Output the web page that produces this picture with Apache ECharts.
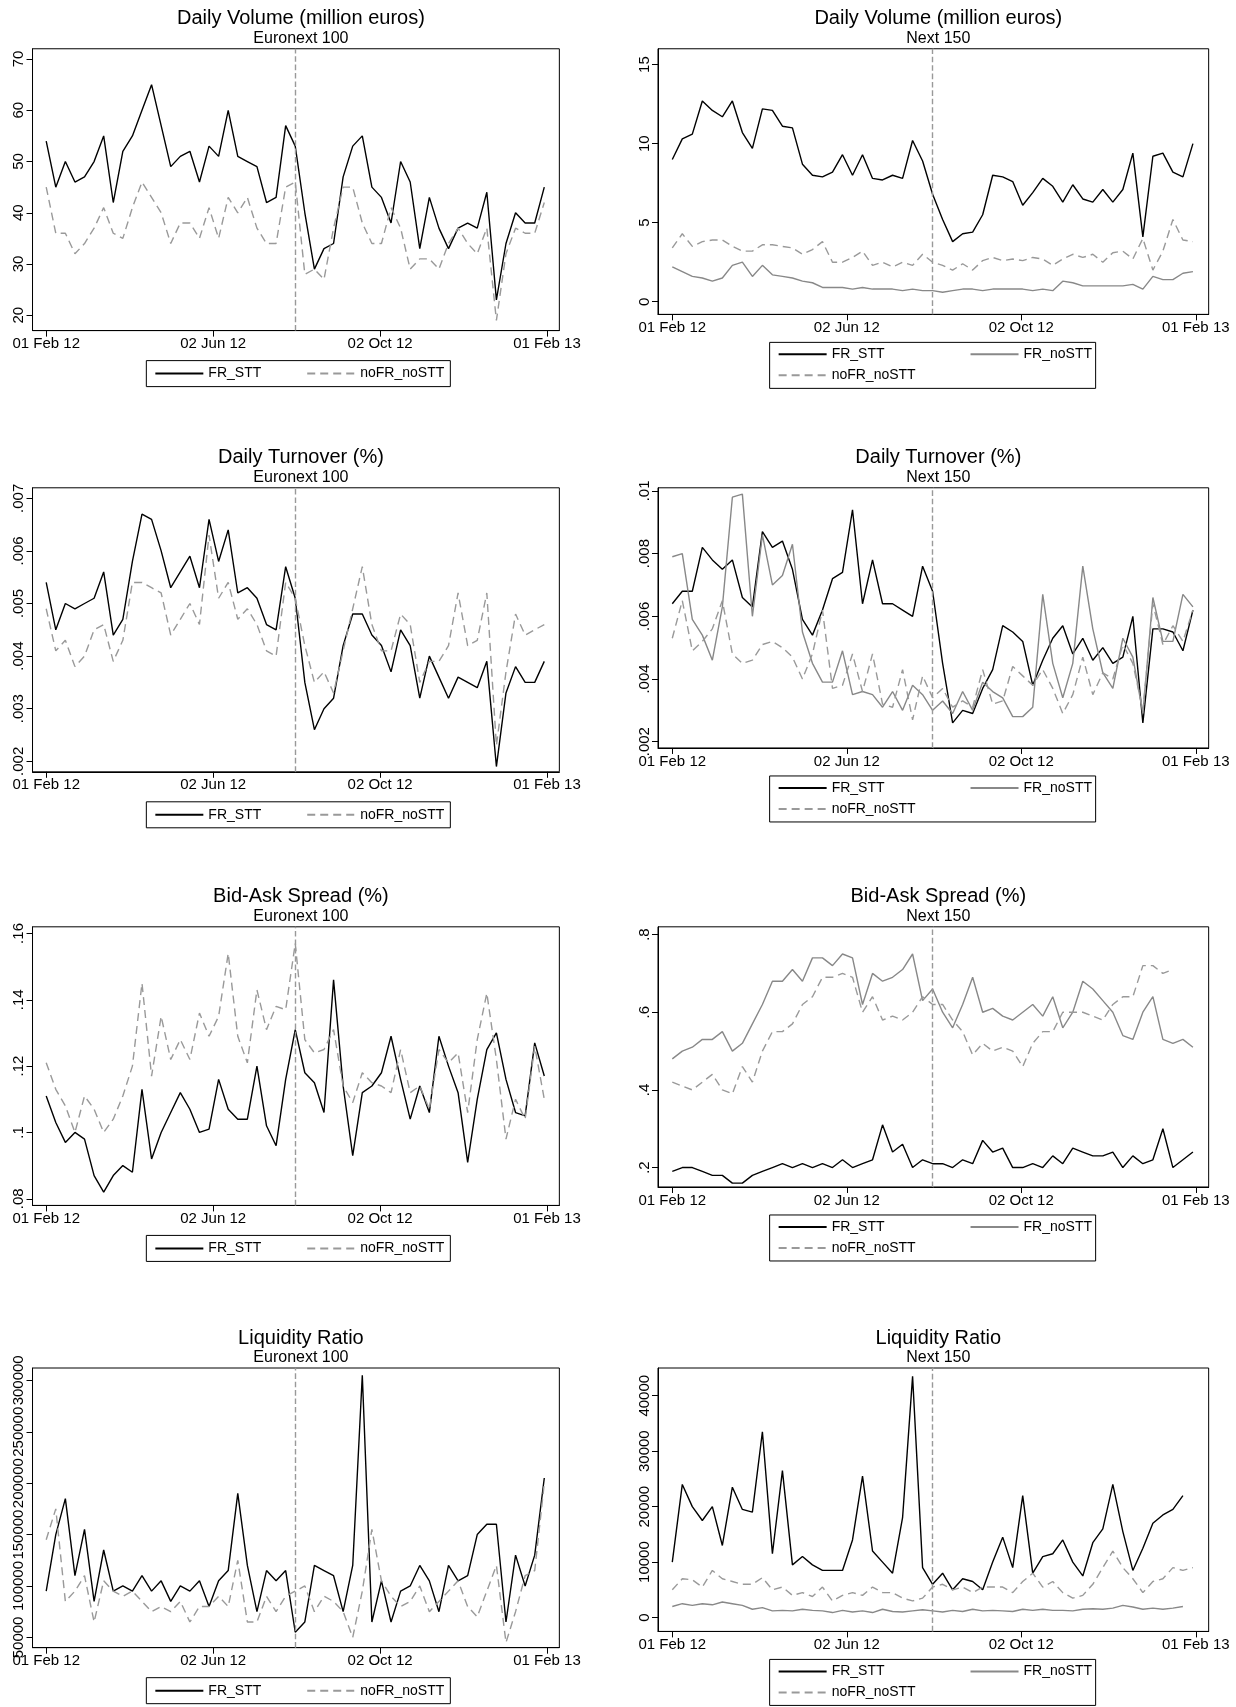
<!DOCTYPE html>
<html>
<head>
<meta charset="UTF-8">
<title>Daily market indicators</title>
<script src="https://cdn.jsdelivr.net/npm/echarts@6/dist/echarts.min.js"></script>
<style>html,body{margin:0;background:#fff}#main{width:1236px;height:1707px}</style>
</head>
<body>
<div id="main"></div>
<script>
// weekly observations, x = days since 01 Feb 12
var xTickDays = [0, 122, 244, 366];
var xTickLabels = ['01 Feb 12', '02 Jun 12', '02 Oct 12', '01 Feb 13'];
var sttDay = 182;

var volE100_FR = [54,45,50,46,47,50,55,42,52,55,60,65,57,49,51,52,46,53,51,60,51,50,49,42,43,57,53,40,29,33,34,47,53,55,45,43,38,50,46,33,43,37,33,37,38,37,44,23,34,40,38,38,45];
var volE100_no = [45,36,36,32,34,37,41,36,35,41,46,43,40,34,38,38,35,41,35,43,40,43,37,34,34,45,46,28,29,27,37,45,45,38,34,34,41,37,29,31,31,29,34,37,34,32,37,19,32,37,36,36,42];

var volN150_FR = [9,10.3,10.6,12.7,12.1,11.7,12.7,10.7,9.7,12.2,12.1,11.1,11,8.7,8,7.9,8.2,9.3,8,9.3,7.8,7.7,8,7.8,10.2,8.9,6.8,5.2,3.8,4.3,4.4,5.5,8,7.9,7.6,6.1,6.9,7.8,7.3,6.3,7.4,6.5,6.3,7.1,6.3,7.1,9.4,4.1,9.2,9.4,8.2,7.9,10];
var volN150_FRno = [2.2,1.9,1.6,1.5,1.3,1.5,2.3,2.5,1.6,2.3,1.7,1.6,1.5,1.3,1.2,0.9,0.9,0.9,0.8,0.9,0.8,0.8,0.8,0.7,0.8,0.7,0.7,0.6,0.7,0.8,0.8,0.7,0.8,0.8,0.8,0.8,0.7,0.8,0.7,1.3,1.2,1,1,1,1,1,1.1,0.8,1.6,1.4,1.4,1.8,1.9];
var volN150_no = [3.4,4.3,3.5,3.8,3.9,3.9,3.5,3.2,3.2,3.6,3.6,3.5,3.4,3,3.3,3.8,2.5,2.5,2.8,3.2,2.3,2.5,2.2,2.5,2.3,3,2.5,2.3,2,2.4,2,2.6,2.8,2.6,2.7,2.6,2.8,2.7,2.3,2.7,3,2.8,3,2.5,3.1,3.2,2.7,4,2,3.2,5.2,3.9,3.8];

var turnE100_FR = [.0054,.0045,.005,.0049,.005,.0051,.0056,.0044,.0047,.0058,.0067,.0066,.006,.0053,.0056,.0059,.0053,.0066,.0058,.0064,.0052,.0053,.0051,.0046,.0045,.0057,.0051,.0035,.0026,.003,.0032,.0042,.0048,.0048,.0044,.0042,.0037,.0045,.0042,.0032,.004,.0036,.0032,.0036,.0035,.0034,.0039,.0019,.0033,.0038,.0035,.0035,.0039];
var turnE100_no = [.0049,.0041,.0043,.0038,.004,.0045,.0046,.0039,.0043,.0054,.0054,.0053,.0052,.0044,.0047,.005,.0046,.0063,.0051,.0054,.0047,.0049,.0046,.0041,.004,.0054,.0051,.0042,.0035,.0037,.0033,.0041,.0049,.0057,.0046,.0041,.0041,.0048,.0046,.0035,.0039,.0039,.0042,.0052,.0042,.0043,.0052,.0023,.0037,.0048,.0044,.0045,.0046];

var turnN150_FR = [.0064,.0068,.0068,.0082,.0078,.0075,.0078,.0066,.0063,.0087,.0082,.0084,.0075,.0059,.0054,.0062,.0072,.0074,.0094,.0064,.0078,.0064,.0064,.0062,.006,.0076,.0068,.0045,.0026,.003,.0029,.0037,.0043,.0057,.0055,.0052,.0038,.0046,.0053,.0057,.0048,.0053,.0046,.005,.0045,.0047,.006,.0026,.0056,.0056,.0055,.0049,.0062];
var turnN150_FRno = [.0079,.008,.0059,.0054,.0046,.0063,.0098,.0099,.006,.0086,.007,.0073,.0083,.0055,.0045,.0039,.0039,.0049,.0035,.0036,.0035,.0031,.0036,.003,.0038,.0035,.003,.0033,.0029,.0036,.003,.0039,.0036,.0034,.0028,.0028,.0031,.0067,.0045,.0034,.0045,.0076,.0056,.0042,.0037,.0053,.0047,.0029,.0066,.0052,.0052,.0067,.0063];
var turnN150_no = [.0053,.0065,.0049,.0052,.0056,.0065,.0048,.0045,.0046,.0051,.0052,.005,.0047,.004,.0048,.0062,.0037,.0038,.0048,.0036,.0048,.0032,.0031,.0043,.0027,.0041,.0034,.0037,.0031,.0033,.0031,.0043,.0032,.0033,.0044,.0041,.0038,.0043,.0037,.0029,.0035,.0047,.0035,.0042,.004,.0051,.0045,.003,.0064,.0051,.0057,.0052,.0062];

var sprE100_FR = [.111,.103,.097,.1,.098,.087,.082,.087,.09,.088,.113,.092,.1,.106,.112,.107,.1,.101,.116,.107,.104,.104,.12,.102,.096,.116,.131,.118,.115,.106,.146,.114,.093,.112,.114,.118,.129,.116,.104,.114,.106,.129,.12,.112,.091,.11,.125,.13,.116,.106,.105,.127,.117];
var sprE100_no = [.121,.113,.108,.1,.111,.107,.1,.104,.111,.12,.145,.117,.135,.122,.128,.122,.136,.129,.135,.154,.129,.121,.143,.131,.138,.137,.157,.128,.124,.125,.131,.114,.109,.118,.115,.114,.112,.125,.112,.114,.107,.125,.121,.124,.106,.128,.142,.122,.098,.11,.104,.126,.11];

var sprN150_FR = [.19,.2,.2,.19,.18,.18,.16,.16,.18,.19,.2,.21,.2,.21,.2,.21,.2,.22,.2,.21,.22,.31,.24,.26,.2,.22,.21,.21,.2,.22,.21,.27,.24,.25,.2,.2,.21,.2,.23,.21,.25,.24,.23,.23,.24,.2,.23,.21,.22,.3,.2,.22,.24,.18,.21];
var sprN150_FRno = [.48,.5,.51,.53,.53,.55,.5,.52,.57,.62,.68,.68,.71,.68,.74,.74,.72,.75,.74,.62,.7,.68,.69,.71,.75,.63,.66,.6,.56,.62,.69,.6,.61,.59,.58,.6,.62,.59,.64,.56,.6,.68,.66,.63,.6,.54,.53,.6,.64,.53,.52,.53,.51];
var sprN150_no = [.42,.41,.4,.42,.44,.4,.39,.46,.42,.5,.55,.55,.57,.62,.64,.69,.69,.7,.69,.6,.64,.58,.59,.58,.6,.64,.62,.62,.58,.55,.49,.52,.5,.51,.5,.46,.52,.55,.55,.6,.6,.6,.59,.58,.62,.64,.64,.72,.72,.7,.71];

var liqE100_FR = [95000,150000,185000,110000,155000,85000,135000,95000,100000,95000,110000,95000,105000,85000,100000,95000,105000,80000,105000,115000,190000,120000,75000,115000,105000,115000,55000,65000,120000,115000,110000,75000,120000,305000,65000,105000,65000,95000,100000,120000,105000,75000,120000,105000,110000,150000,160000,160000,65000,130000,100000,130000,205000];
var liqE100_no = [145000,175000,85000,95000,110000,65000,105000,95000,90000,95000,85000,75000,80000,75000,85000,65000,80000,80000,90000,80000,125000,65000,65000,90000,75000,90000,95000,100000,75000,90000,85000,75000,50000,95000,155000,105000,90000,80000,85000,100000,75000,85000,95000,105000,80000,70000,95000,120000,45000,75000,110000,115000,200000];

var liqN150_FR = [10000,24000,20000,17500,20000,13000,23500,19500,19000,33500,11500,26500,9500,11000,9500,8500,8500,8500,14000,25500,12000,10000,8000,18000,43500,9000,6000,8000,5000,7000,6500,5000,10000,14500,9000,22000,8000,11000,11500,14000,10000,7500,13500,16000,24000,15500,8500,12500,17000,18500,19500,22000];
var liqN150_FRno = [2000,2500,2200,2500,2300,2800,2500,2200,1500,1800,1200,1300,1200,1500,1300,1200,900,1300,1000,1200,900,1500,1100,1000,1200,1400,1200,1000,1300,1100,1500,1200,1300,1200,1100,1500,1300,1500,1300,1300,1200,1500,1600,1500,1700,2200,1900,1500,1700,1500,1700,2000];
var liqN150_no = [5000,7000,6800,5500,8500,7000,6500,6000,6000,7200,5000,5500,4000,4500,3800,5500,3000,4000,4500,4000,5500,4500,4500,3500,3000,3500,5500,6000,5000,5500,4500,5500,5500,5500,4500,6500,8000,5500,6500,4500,3500,4000,6000,9000,12000,9000,7000,4500,6500,7000,9000,8500,9000];

var panels = [
  {t:'Daily Volume (million euros)', s:'Euronext 100', col:0, row:0, ymin:17, ymax:72, yt:[20,30,40,50,60,70], fr:volE100_FR, no:volE100_no},
  {t:'Daily Volume (million euros)', s:'Next 150', col:1, row:0, ymin:-0.8, ymax:16, yt:[0,5,10,15], fr:volN150_FR, frno:volN150_FRno, no:volN150_no},
  {t:'Daily Turnover (%)', s:'Euronext 100', col:0, row:1, ymin:.0018, ymax:.0072, yt:[.002,.003,.004,.005,.006,.007], fr:turnE100_FR, no:turnE100_no},
  {t:'Daily Turnover (%)', s:'Next 150', col:1, row:1, ymin:.0018, ymax:.0101, yt:[.002,.004,.006,.008,.01], fr:turnN150_FR, frno:turnN150_FRno, no:turnN150_no},
  {t:'Bid-Ask Spread (%)', s:'Euronext 100', col:0, row:2, ymin:.078, ymax:.162, yt:[.08,.1,.12,.14,.16], fr:sprE100_FR, no:sprE100_no},
  {t:'Bid-Ask Spread (%)', s:'Next 150', col:1, row:2, ymin:.15, ymax:.82, yt:[.2,.4,.6,.8], fr:sprN150_FR, frno:sprN150_FRno, no:sprN150_no},
  {t:'Liquidity Ratio', s:'Euronext 100', col:0, row:3, ymin:40000, ymax:312000, yt:[50000,100000,150000,200000,250000,300000], fr:liqE100_FR, no:liqE100_no},
  {t:'Liquidity Ratio', s:'Next 150', col:1, row:3, ymin:-2500, ymax:45000, yt:[0,10000,20000,30000,40000], fr:liqN150_FR, frno:liqN150_FRno, no:liqN150_no}
];

// layout measured on a reduced copy, scaled by S
var S = 1.084;
var rowTop = [45, 450, 855, 1262];
var rowH = [[260, 245], [262, 240], [257, 240], [258, 243]];
var colLeft = [30, 607];
var colW = [486, 508];
var font = 'Liberation Sans, Arial, sans-serif';

function pts(arr) {
  return arr.slice(0, 53).map(function (v, i) { return [i * 7, v]; });
}
function fmtY(v) {
  return String(Number(v.toPrecision(6))).replace(/^0\./, '.');
}

var titles = [], grids = [], xAxes = [], yAxes = [], series = [], legends = [], boxes = [];

panels.forEach(function (p, k) {
  var left = colLeft[p.col] * S, w = colW[p.col] * S, top = rowTop[p.row] * S, h = rowH[p.row][p.col] * S;
  var cx = left + w / 2;
  titles.push({text: p.t, subtext: p.s, left: cx, top: top - 45, textAlign: 'center', itemGap: 2,
    textStyle: {fontFamily: font, fontSize: 20, fontWeight: 'normal', color: '#000'},
    subtextStyle: {fontFamily: font, fontSize: 16, color: '#000'}});
  grids.push({left: left, top: top, width: w, height: h, show: true, borderColor: '#000', borderWidth: 1, backgroundColor: '#fff'});
  xAxes.push({type: 'value', gridIndex: k, min: -10, max: 375,
    axisLine: {show: true, onZero: false, lineStyle: {color: '#000'}},
    axisTick: {show: true, customValues: xTickDays, length: 6, lineStyle: {color: '#000'}},
    axisLabel: {customValues: xTickDays, fontFamily: font, fontSize: 15, color: '#000', margin: 6,
      formatter: function (v) { return xTickLabels[xTickDays.indexOf(v)]; }},
    splitLine: {show: false}});
  yAxes.push({type: 'value', gridIndex: k, min: p.ymin, max: p.ymax,
    axisLine: {show: true, onZero: false, lineStyle: {color: '#000'}},
    axisTick: {show: true, customValues: p.yt, length: 6, lineStyle: {color: '#000'}},
    axisLabel: {customValues: p.yt, rotate: 90, fontFamily: font, fontSize: 15, color: '#000', margin: 6, formatter: fmtY},
    splitLine: {show: false}});
  series.push({name: 'FR_STT', type: 'line', xAxisIndex: k, yAxisIndex: k, data: pts(p.fr), symbol: 'none',
    lineStyle: {color: '#000', width: 1.4}, itemStyle: {color: '#000'},
    markLine: {silent: true, symbol: 'none', label: {show: false},
      lineStyle: {color: '#999', type: 'dashed', width: 1.4}, data: [{xAxis: sttDay}]}});
  if (p.frno) {
    series.push({name: 'FR_noSTT', type: 'line', xAxisIndex: k, yAxisIndex: k, data: pts(p.frno), symbol: 'none',
      lineStyle: {color: '#888', width: 1.4}, itemStyle: {color: '#888'}});
  }
  series.push({name: 'noFR_noSTT', type: 'line', xAxisIndex: k, yAxisIndex: k, data: pts(p.no), symbol: 'none',
    lineStyle: {color: '#999', width: 1.4, type: [8, 5]}, itemStyle: {color: '#999'}});

  var common = {itemWidth: 48, itemHeight: 12, selectedMode: false, itemStyle: {opacity: 0},
    textStyle: {fontFamily: font, fontSize: 14, color: '#000'}};
  var ly = top + h + (p.col === 0 ? 30 : 28);
  if (p.col === 0) {
    var bx = 135 * S;
    boxes.push({type: 'rect', shape: {x: bx, y: ly, width: 304, height: 26}, style: {fill: 'none', stroke: '#000', lineWidth: 1}});
    legends.push(Object.assign({data: ['FR_STT', 'noFR_noSTT'], left: bx + 8, top: ly + 6, itemGap: 45, padding: 0}, common));
  } else {
    var bx2 = 710 * S;
    boxes.push({type: 'rect', shape: {x: bx2, y: ly, width: 326, height: 46}, style: {fill: 'none', stroke: '#000', lineWidth: 1}});
    legends.push(Object.assign({data: ['FR_STT', 'FR_noSTT'], left: bx2 + 8, top: ly + 5, itemGap: 85, padding: 0}, common));
    legends.push(Object.assign({data: ['noFR_noSTT'], left: bx2 + 8, top: ly + 26, padding: 0}, common));
  }
});

var chart = echarts.init(document.getElementById('main'));
chart.setOption({
  animation: false,
  backgroundColor: '#fff',
  title: titles,
  grid: grids,
  xAxis: xAxes,
  yAxis: yAxes,
  legend: legends,
  graphic: boxes,
  series: series
});
</script>
</body>
</html>
